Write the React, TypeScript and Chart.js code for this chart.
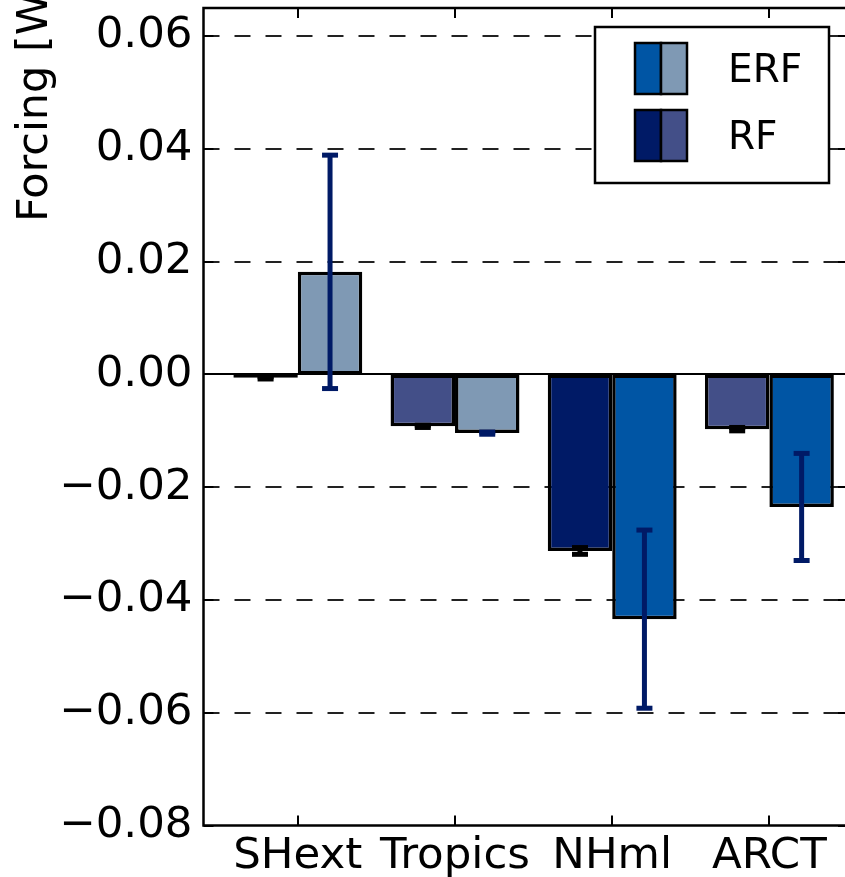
import React, { useEffect, useRef } from 'react';
import { Chart, registerables } from 'chart.js';

Chart.register(...registerables);

const categories = ['SHext', 'Tropics', 'NHml', 'ARCT'];
const rfValues = [-0.0006, -0.0092, -0.0313, -0.0097];
const rfErrors = [0.0002, 0.0002, 0.0006, 0.0003];
const erfValues = [0.0182, -0.0104, -0.0434, -0.0235];
const erfErrors = [0.0207, 0.0002, 0.0158, 0.0095];
const rfColors = ['#434f88', '#434f88', '#001a66', '#434f88'];
const erfColors = ['#7f99b4', '#7f99b4', '#0055a4', '#0055a4'];
const yTickValues = [-0.08, -0.06, -0.04, -0.02, 0, 0.02, 0.04, 0.06];
const yTickLabels = ['−0.08', '−0.06', '−0.04', '−0.02', '0.00', '0.02', '0.04', '0.06'];
const legendLabels = ['ERF', 'RF'];
const legendPatches = [
  ['#0055a4', '#7f99b4'],
  ['#001a66', '#434f88'],
];
const yAxisTitle = 'Forcing [W m⁻²]';

const FONT = '"DejaVu Sans", sans-serif';
const CANVAS_W = 860;
const CANVAS_H = 877;

const decor = {
  id: 'decor',
  beforeDatasetsDraw(chart: any) {
    const { ctx, chartArea: a, scales } = chart;
    const y = scales.y;
    ctx.save();
    ctx.beginPath();
    ctx.rect(a.left, a.top, a.right - a.left, a.bottom - a.top);
    ctx.clip();
    ctx.strokeStyle = '#222';
    ctx.lineWidth = 1.8;
    ctx.setLineDash([16, 15]);
    yTickValues.forEach((v) => {
      if (v === 0) return;
      const py = Math.round(y.getPixelForValue(v));
      ctx.beginPath();
      ctx.moveTo(a.left, py);
      ctx.lineTo(a.right, py);
      ctx.stroke();
    });
    ctx.setLineDash([]);
    ctx.strokeStyle = '#000';
    ctx.lineWidth = 2;
    const z = Math.round(y.getPixelForValue(0));
    ctx.beginPath();
    ctx.moveTo(a.left, z);
    ctx.lineTo(a.right, z);
    ctx.stroke();
    ctx.restore();
  },
  afterDatasetsDraw(chart: any) {
    const { ctx, chartArea: a, scales } = chart;
    const x = scales.x;
    const y = scales.y;
    ctx.save();
    // error bars
    const errSets = [
      { vals: rfValues, errs: rfErrors, color: '#000000', meta: chart.getDatasetMeta(0) },
      { vals: erfValues, errs: erfErrors, color: '#001a66', meta: chart.getDatasetMeta(1) },
    ];
    errSets.forEach((s) => {
      s.vals.forEach((v, i) => {
        const el = s.meta.data[i];
        const cx = el.x;
        const yTop = y.getPixelForValue(v + s.errs[i]);
        const yBot = y.getPixelForValue(v - s.errs[i]);
        ctx.strokeStyle = s.color;
        ctx.lineWidth = 5;
        ctx.beginPath();
        ctx.moveTo(cx, yTop);
        ctx.lineTo(cx, yBot);
        ctx.stroke();
        [yTop, yBot].forEach((py) => {
          ctx.beginPath();
          ctx.moveTo(cx - 8, py);
          ctx.lineTo(cx + 8, py);
          ctx.stroke();
        });
      });
    });
    // ticks (inward)
    ctx.strokeStyle = '#000';
    ctx.lineWidth = 2;
    const tl = 10;
    categories.forEach((_, i) => {
      const px = Math.round(x.getPixelForValue(i));
      ctx.beginPath();
      ctx.moveTo(px, a.bottom);
      ctx.lineTo(px, a.bottom - tl);
      ctx.moveTo(px, a.top);
      ctx.lineTo(px, a.top + tl);
      ctx.stroke();
    });
    yTickValues.forEach((v) => {
      const py = Math.round(y.getPixelForValue(v));
      ctx.beginPath();
      ctx.moveTo(a.left, py);
      ctx.lineTo(a.left + tl, py);
      ctx.moveTo(a.right, py);
      ctx.lineTo(a.right - tl, py);
      ctx.stroke();
    });
    // spines
    ctx.lineWidth = 2.5;
    ctx.strokeRect(a.left, a.top, a.right - a.left, a.bottom - a.top);
    // legend
    const bx = 595, by = 27, bw = 234, bh = 156;
    ctx.fillStyle = '#fff';
    ctx.fillRect(bx, by, bw, bh);
    ctx.lineWidth = 2.5;
    ctx.strokeStyle = '#000';
    ctx.strokeRect(bx, by, bw, bh);
    legendLabels.forEach((lab, k) => {
      const py = 43 + k * 67;
      legendPatches[k].forEach((c, j) => {
        ctx.fillStyle = c;
        ctx.fillRect(635 + j * 26, py, 26, 51);
        ctx.lineWidth = 2.5;
        ctx.strokeRect(635 + j * 26, py, 26, 51);
      });
      ctx.fillStyle = '#000';
      ctx.font = `39px ${FONT}`;
      ctx.textAlign = 'left';
      ctx.textBaseline = 'alphabetic';
      ctx.fillText(lab, 728, py + 39);
    });
    // y axis title
    ctx.save();
    ctx.translate(47, 222);
    ctx.rotate(-Math.PI / 2);
    ctx.font = `43px ${FONT}`;
    ctx.fillStyle = '#000';
    ctx.textAlign = 'left';
    ctx.textBaseline = 'alphabetic';
    ctx.fillText(yAxisTitle, 0, 0);
    ctx.restore();
    ctx.restore();
  },
};

export default function App() {
  const ref = useRef<HTMLCanvasElement | null>(null);
  useEffect(() => {
    if (!ref.current) return;
    const chart = new Chart(ref.current, {
      type: 'bar',
      data: {
        datasets: [
          {
            label: 'RF',
            data: rfValues.map((v, i) => ({ x: i, y: v })),
            backgroundColor: rfColors,
            borderColor: '#000',
            borderWidth: 3.5,
            borderSkipped: false,
          },
          {
            label: 'ERF',
            data: erfValues.map((v, i) => ({ x: i, y: v })),
            backgroundColor: erfColors,
            borderColor: '#000',
            borderWidth: 3.5,
            borderSkipped: false,
          },
        ],
      },
      options: {
        responsive: false,
        animation: false,
        devicePixelRatio: 1,
        datasets: { bar: { categoryPercentage: 0.82, barPercentage: 1 } },
        layout: { padding: { top: 8, right: CANVAS_W - 848, left: 0, bottom: 0 } },
        plugins: { legend: { display: false }, tooltip: { enabled: false } },
        scales: {
          x: {
            type: 'linear',
            min: -0.6,
            max: 3.5,
            offset: false,
            grid: { display: false, drawTicks: false },
            border: { display: false },
            afterBuildTicks: (s: any) => {
              s.ticks = categories.map((_, i) => ({ value: i }));
            },
            afterFit: (s: any) => {
              s.height = CANVAS_H - 825.5;
              s.paddingLeft = 0;
              s.paddingRight = 0;
            },
            ticks: {
              autoSkip: false,
              maxRotation: 0,
              minRotation: 0,
              padding: 5,
              color: '#000',
              font: { family: FONT, size: 43.5 },
              callback: (v: any) => categories[Math.round(Number(v))] ?? '',
            },
          },
          y: {
            type: 'linear',
            min: -0.08,
            max: 0.065,
            grid: { display: false, drawTicks: false },
            border: { display: false },
            afterBuildTicks: (s: any) => {
              s.ticks = yTickValues.map((v) => ({ value: v }));
            },
            afterFit: (s: any) => {
              s.width = 203.5;
              s.paddingTop = 0;
              s.paddingBottom = 0;
            },
            ticks: {
              padding: 11,
              color: '#000',
              font: { family: FONT, size: 43.5 },
              callback: (_v: any, i: number) => yTickLabels[i],
            },
          },
        },
      },
      plugins: [decor],
    });
    return () => chart.destroy();
  }, []);
  return (
    <div style={{ position: 'fixed', left: 0, top: 0, width: 845, height: 877, overflow: 'hidden', background: '#fff' }}>
      <canvas ref={ref} width={CANVAS_W} height={CANVAS_H} style={{ width: CANVAS_W, height: CANVAS_H, display: 'block' }} />
    </div>
  );
}
